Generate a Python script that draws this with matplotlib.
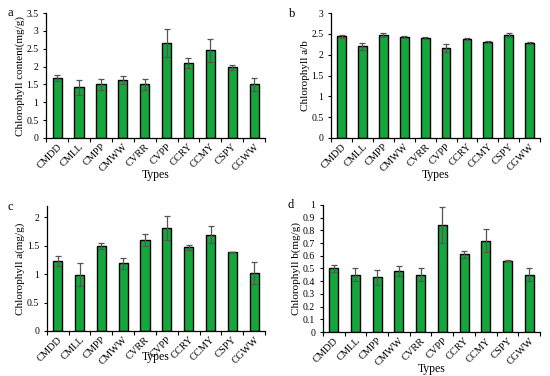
import numpy as np
import matplotlib.pyplot as plt
from matplotlib.ticker import FuncFormatter

plt.rcParams['font.family'] = ['Liberation Serif', 'DejaVu Serif']

types = ["CMDD", "CMLL", "CMPP", "CMWW", "CVRR", "CVPP", "CCRY", "CCMY", "CSPY", "CGWW"]

# panel a: total chlorophyll content
chl_total = [1.69, 1.42, 1.50, 1.63, 1.50, 2.66, 2.10, 2.46, 1.99, 1.50]
chl_total_err = [0.08, 0.21, 0.16, 0.11, 0.16, 0.40, 0.14, 0.32, 0.07, 0.17]

# panel b: chlorophyll a/b
chl_ab = [2.44, 2.20, 2.48, 2.43, 2.40, 2.16, 2.38, 2.30, 2.48, 2.29]
chl_ab_err = [0.04, 0.08, 0.05, 0.03, 0.02, 0.09, 0.02, 0.02, 0.05, 0.02]

# panel c: chlorophyll a
chl_a = [1.23, 0.99, 1.50, 1.19, 1.60, 1.81, 1.47, 1.69, 1.39, 1.02]
chl_a_err = [0.09, 0.20, 0.05, 0.10, 0.10, 0.21, 0.04, 0.15, 0.0, 0.19]

# panel d: chlorophyll b
chl_b = [0.50, 0.45, 0.43, 0.48, 0.45, 0.84, 0.61, 0.72, 0.56, 0.45]
chl_b_err = [0.03, 0.05, 0.06, 0.04, 0.05, 0.14, 0.03, 0.09, 0.003, 0.05]

panels = [
    ("a", chl_total, chl_total_err, "Chlorophyll content(mg/g)", 3.5, 0.5, [0.084, 0.633, 0.398, 0.332], -3),
    ("b", chl_ab, chl_ab_err, "Chlorophyll a/b", 3.0, 0.5, [0.602, 0.633, 0.380, 0.332], -3),
    ("c", chl_a, chl_a_err, "Chlorophyll a(mg/g)", 2.2, 0.5, [0.085, 0.120, 0.397, 0.332], -11),
    ("d", chl_b, chl_b_err, "Chlorophyll b(mg/g)", 1.0, 0.1, [0.587, 0.117, 0.395, 0.338], -3),
]
label_pos = {"a": (8, 13), "b": (289, 14), "c": (8, 207), "d": (288, 205)}

fig = plt.figure(figsize=(5.5, 3.76), dpi=100)
x = np.arange(len(types))

for name, vals, errs, ylabel, ymax, step, pos, xpad in panels:
    ax = fig.add_axes(pos)
    ax.bar(x, vals, width=0.42, color="#14a83c", edgecolor="black", linewidth=1.0,
           yerr=errs, error_kw=dict(ecolor="#555555", elinewidth=0.9, capsize=2.2, capthick=0.9))
    ax.set_xlim(-0.5, len(types) - 0.5)
    ax.set_ylim(0, ymax)
    ax.set_yticks(np.arange(0, ymax + 1e-9, step))
    ax.yaxis.set_major_formatter(FuncFormatter(lambda v, p: "%g" % round(v, 2)))
    ax.set_xticks(x)
    ax.set_xticklabels(types, rotation=45, ha="right", rotation_mode="anchor", fontsize=7.5)
    ax.set_xticks(np.arange(-0.5, len(types)), minor=True)
    ax.tick_params(axis="x", which="major", length=0, pad=3)
    ax.tick_params(axis="x", which="minor", length=3, width=0.8, direction="out")
    ax.tick_params(axis="y", length=2.5, width=0.8, labelsize=7, pad=3)
    for s in ["top", "right"]:
        ax.spines[s].set_visible(False)
    ax.spines["left"].set_linewidth(0.9)
    ax.spines["bottom"].set_linewidth(0.9)
    ax.set_ylabel(ylabel, fontsize=8, labelpad=1)
    ax.set_xlabel("Types", fontsize=8.5, labelpad=xpad)
    lx, ly = label_pos[name]
    fig.text(lx / 550, 1 - ly / 376, name, fontsize=9, va="center", ha="left")

fig.savefig("out.png", dpi=100)
